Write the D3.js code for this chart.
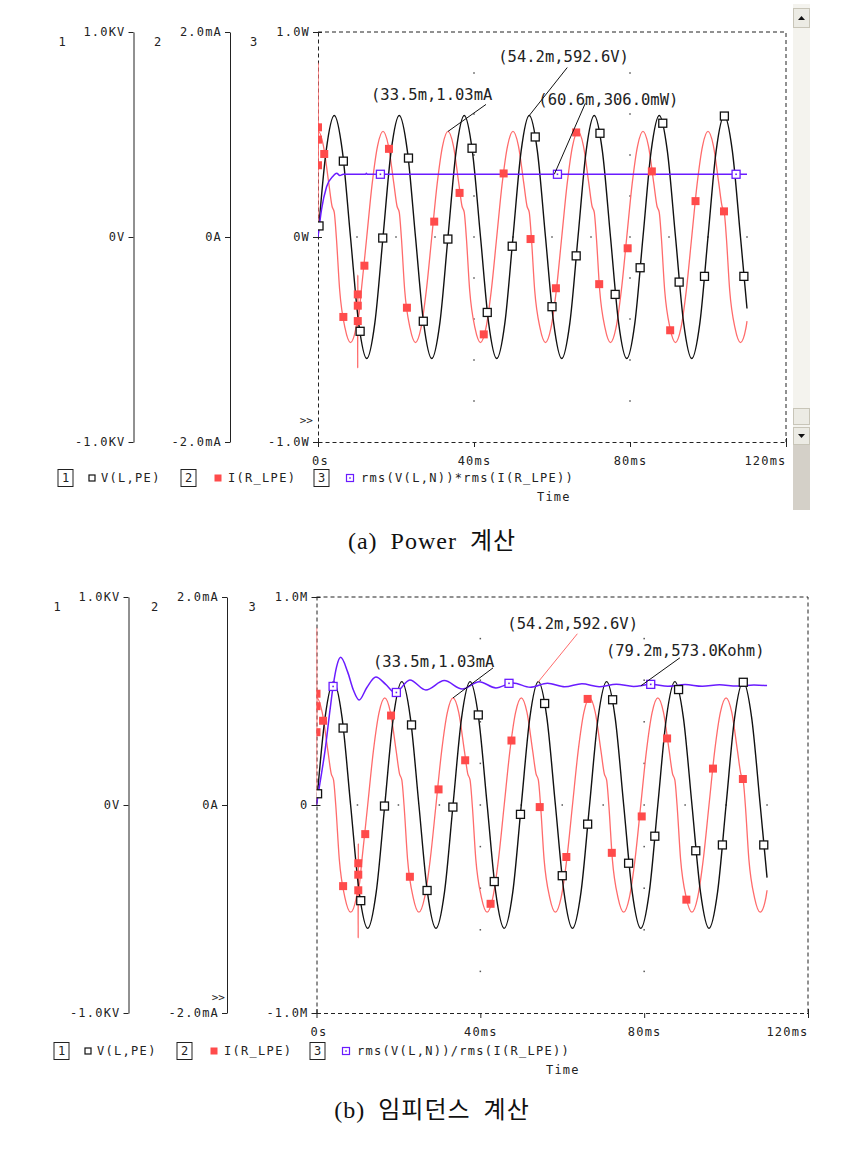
<!DOCTYPE html>
<html lang="ko">
<head>
<meta charset="UTF-8">
<title>Power / Impedance</title>
<script src="https://cdn.jsdelivr.net/npm/d3@7"></script>
<style>
  body { margin: 0; background: #fff; }
</style>
</head>
<body>
<svg id="chart" width="867" height="1160"></svg>
<script>
// ---- data, time in ms ----
// V(L,PE) in volts
var vTime = [0, 2.08, 4.17, 6.25, 8.33, 10.42, 12.5, 14.58,
  16.67, 18.75, 20.83, 22.92, 25, 27.08, 29.17, 31.25,
  33.33, 35.42, 37.5, 39.58, 41.67, 43.75, 45.83, 47.92,
  50, 52.08, 54.17, 56.25, 58.33, 60.42, 62.5, 64.58,
  66.67, 68.75, 70.83, 72.92, 75, 77.08, 79.17, 81.25,
  83.33, 85.42, 87.5, 89.58, 91.67, 93.75, 95.83, 97.92,
  100, 102.08, 104.17, 106.25, 108.33, 110];
var vVal = [0, 419, 593, 419, 0, -419, -593, -419,
  0, 419, 593, 419, 0, -419, -593, -419,
  0, 419, 593, 419, 0, -419, -593, -419,
  0, 419, 593, 419, 0, -419, -593, -419,
  0, 419, 593, 419, 0, -419, -593, -419,
  0, 419, 593, 419, 0, -419, -593, -419,
  0, 419, 593, 419, 0, -349];

// I(R_LPE) in mA
var iTime = [0, 0.02, 0.05, 0.1, 1.39, 2.78, 3.6, 4.17, 4.7, 5.56, 6.94, 8.33, 9.72, 10.15, 10.18, 10.21, 10.24, 11.11, 12.5, 13.89, 15.28,
  16.67, 18.06, 19.45, 20.27, 20.84, 21.37, 22.23, 23.61, 25.0, 26.39, 27.78, 29.17, 30.56, 31.95,
  33.33, 34.72, 36.11, 36.93, 37.5, 38.03, 38.89, 40.27, 41.66, 43.05, 44.44, 45.83, 47.22, 48.61,
  50, 51.39, 52.78, 53.6, 54.17, 54.7, 55.56, 56.94, 58.33, 59.72, 61.11, 62.5, 63.89, 65.28,
  66.67, 68.06, 69.45, 70.27, 70.84, 71.37, 72.23, 73.61, 75.0, 76.39, 77.78, 79.17, 80.56, 81.95,
  83.33, 84.72, 86.11, 86.93, 87.5, 88.03, 88.89, 90.27, 91.66, 93.05, 94.44, 95.83, 97.22, 98.61,
  100, 101.39, 102.78, 103.6, 104.17, 104.7, 105.56, 106.94, 108.33, 109.72, 110];
var iVal = [0, 1.70, 0.70, 1.03, 0.89, 0.52, 0.30, 0.24, 0, -0.52, -0.89, -1.03, -0.89, -0.79, -1.28, -0.37, -0.81, -0.52, 0, 0.52, 0.89,
  1.03, 0.89, 0.52, 0.30, 0.24, 0, -0.52, -0.89, -1.03, -0.89, -0.52, 0, 0.52, 0.89,
  1.03, 0.89, 0.52, 0.30, 0.24, 0, -0.52, -0.89, -1.03, -0.89, -0.52, 0, 0.52, 0.89,
  1.03, 0.89, 0.52, 0.30, 0.24, 0, -0.52, -0.89, -1.03, -0.89, -0.52, 0, 0.52, 0.89,
  1.03, 0.89, 0.52, 0.30, 0.24, 0, -0.52, -0.89, -1.03, -0.89, -0.52, 0, 0.52, 0.89,
  1.03, 0.89, 0.52, 0.30, 0.24, 0, -0.52, -0.89, -1.03, -0.89, -0.52, 0, 0.52, 0.89,
  1.03, 0.89, 0.52, 0.30, 0.24, 0, -0.52, -0.89, -1.03, -0.89, -0.82];

// rms(V)*rms(I) in W
var pTime = [0, 0.9, 2.2, 3.9, 4.8, 5.6, 6.5, 12.2, 12.4, 12.6, 110];
var pVal = [0, 0.133, 0.245, 0.298, 0.311, 0.300, 0.306, 0.306, 0.311, 0.306, 0.306];

// rms(V)/rms(I) in kohm
var zTime = [0, 0.85, 2.1, 3.3, 4.1, 4.9, 5.9, 7.6, 9.0, 10.4, 12.3, 14.5, 16.9, 19.2, 22.8, 26.7, 31.2, 35.6,
  39.7, 43.8, 48.0, 52.2, 56.4, 60.6, 64.8, 69.0, 73.2, 77.4, 81.6, 85.8, 90.0, 94.2, 98.4, 102.6, 106.8, 110];
var zVal = [0, 106, 264, 457, 577, 664, 710, 640, 553, 505, 565, 615, 580, 540, 601, 553, 598, 558,
  593, 563, 587, 566, 585, 568, 583, 569, 581, 570, 580, 571, 579, 571, 578, 572, 577, 574];

// symbol markers
var vMarkTime = [0.26, 6.5, 10.8, 16.6, 23.2, 27.0, 33.3, 39.5, 43.4, 49.8, 55.7, 60.0, 66.2, 72.3, 76.2, 82.6, 88.4, 92.6, 99.1, 104.2, 109.2];
var vMarkVal = [54, 370, -460, -5, 385, -411, -10, 433, -368, -45, 488, -340, -92, 506, -280, -150, 555, -220, -192, 590, -192];
var iMarkTime = [0, 0, 0, 1.6, 6.5, 10.2, 10.2, 10.2, 11.9, 18.2, 22.8, 29.8, 36.3, 42.5, 47.6, 54.5, 61.0, 66.2, 72.1, 79.4, 85.6, 90.3, 96.8, 104.1];
var iMarkVal = [1.07, 0.95, 0.70, 0.81, -0.78, -0.56, -0.67, -0.82, -0.28, 0.86, -0.69, 0.15, 0.43, -0.95, 0.62, -0.02, -0.50, 1.02, -0.46, -0.11, 0.64, -0.91, 0.35, 0.25];
var pMarkTime = [16.0, 61.4, 107.2];
var pMarkVal = [0.306, 0.306, 0.306];
var zMarkTime = [4.05, 19.5, 47.0, 81.6];
var zMarkVal = [570, 541, 585, 580];

// axis ticks
var xTicks = [0, 40, 80, 120];
var xTickLabels = ['0s', '40ms', '80ms', '120ms'];
var vTicks = [-1000, 0, 1000], vTickLabels = ['-1.0KV', '0V', '1.0KV'];
var iTicks = [-2, 0, 2], iTickLabels = ['-2.0mA', '0A', '2.0mA'];
var pTicks = [-1, 0, 1], pTickLabels = ['-1.0W', '0W', '1.0W'];
var zTicks = [-1000, 0, 1000], zTickLabels = ['-1.0M', '0', '1.0M'];

// cursor labels
var noteAText = ['(33.5m,1.03mA', '(54.2m,592.6V)', '(60.6m,306.0mW)'];
var noteATime = [33.33, 54.17, 60.6];
var noteAVal = [1.03, 592.6, 0.306];
var noteBText = ['(33.5m,1.03mA', '(54.2m,592.6V)', '(79.2m,573.0Kohm)'];
var noteBTime = [33.33, 54.17, 79.2];
var noteBVal = [1.03, 592.6, 573];

var mono = '"DejaVu Sans Mono", "Liberation Mono", monospace';
var BLACK = '#111', RED_LINE = '#ff6b6b', RED_MARK = '#ff4b4b', PURPLE = '#6a1cff';

var svg = d3.select('#chart');
svg.append('rect').attr('width', 867).attr('height', 1160).attr('fill', '#fff');

var panels = [
  { id: 'a', top: 32, bottom: 442, left: 318, right: 786, ax1: 133.5, ax2: 230,
    y3Domain: [-1, 1], y3Ticks: pTicks, y3Labels: pTickLabels,
    s3Time: pTime, s3Val: pVal, m3Time: pMarkTime, m3Val: pMarkVal,
    legend3: 'rms(V(L,N))*rms(I(R_LPE))', legendX: 58, legendY: 478, timeX: 537, timeY: 497,
    caption: '(a) Power 계산', captionY: 549,
    noteText: noteAText, noteTime: noteATime, noteVal: noteAVal,
    noteAxis: ['i', 'v', '3'], noteColor: [BLACK, BLACK, BLACK],
    noteLead: [[38, -27], [38, -48], [31, -71]], noteOff: [[-77, -31], [-31, -54], [-16, -69]],
    arrowX: 313, arrowY: 420, scrollbar: true },
  { id: 'b', top: 597, bottom: 1013, left: 316.5, right: 808, ax1: 128.5, ax2: 227,
    y3Domain: [-1000, 1000], y3Ticks: zTicks, y3Labels: zTickLabels,
    s3Time: zTime, s3Val: zVal, m3Time: zMarkTime, m3Val: zMarkVal,
    legend3: 'rms(V(L,N))/rms(I(R_LPE))', legendX: 54, legendY: 1051, timeX: 546, timeY: 1070,
    caption: '(b) 임피던스 계산', captionY: 1118,
    noteText: noteBText, noteTime: noteBTime, noteVal: noteBVal,
    noteAxis: ['i', 'v', '3'], noteColor: [BLACK, RED_LINE, BLACK],
    noteLead: [[40, -30], [39, -48], [39, -28]], noteOff: [[-80, -31], [-31, -53], [-35, -30]],
    arrowX: 225, arrowY: 997, scrollbar: false }
];

function leftAxis(g, scale, ticks, labels, xPos, dashed) {
  var ax = g.append('g').attr('transform', 'translate(' + xPos + ',0)')
    .call(d3.axisLeft(scale).tickValues(ticks)
      .tickFormat(function(d, i) { return labels[i]; })
      .tickSize(5).tickSizeOuter(0).tickPadding(3));
  ax.attr('font-family', mono).attr('font-size', 12);
  ax.selectAll('text').attr('letter-spacing', 1.2).attr('fill', '#222');
  ax.selectAll('.tick line').attr('stroke', '#222');
  ax.select('.domain').attr('stroke', '#222');
  if (dashed) {
    ax.select('.domain').attr('stroke-dasharray', '4,3');
    ax.selectAll('.tick line').attr('x1', 4);
  }
  return ax;
}

function squareMarks(g, xs, ys, size, fill, stroke) {
  g.selectAll(null).data(xs).enter().append('rect')
    .attr('x', function(d, i) { return xs[i] - size / 2; })
    .attr('y', function(d, i) { return ys[i] - size / 2; })
    .attr('width', size).attr('height', size)
    .attr('fill', fill).attr('stroke', stroke).attr('stroke-width', stroke === 'none' ? 0 : 1.3);
}

function drawPanel(cfg) {
  var g = svg.append('g');
  var x = d3.scaleLinear().domain([0, 120]).range([cfg.left, cfg.right]);
  var yV = d3.scaleLinear().domain([-1000, 1000]).range([cfg.bottom, cfg.top]);
  var yI = d3.scaleLinear().domain([-2, 2]).range([cfg.bottom, cfg.top]);
  var y3 = d3.scaleLinear().domain(cfg.y3Domain).range([cfg.bottom, cfg.top]);
  var yU = d3.scaleLinear().domain([-1, 1]).range([cfg.bottom, cfg.top]);
  var scales = { v: yV, i: yI, '3': y3 };

  g.append('clipPath').attr('id', 'clip' + cfg.id).append('rect')
    .attr('x', cfg.left).attr('y', cfg.top - 1)
    .attr('width', cfg.right - cfg.left).attr('height', cfg.bottom - cfg.top + 2);

  // dotted grid
  var dots = [];
  d3.range(10, 111, 10).forEach(function(t) { dots.push([x(t), yU(0)]); });
  [40, 80].forEach(function(t) {
    [-0.8, -0.6, -0.4, -0.2, 0.2, 0.4, 0.6, 0.8].forEach(function(f) { dots.push([x(t), yU(f)]); });
  });
  g.selectAll(null).data(dots).enter().append('rect')
    .attr('x', function(d) { return d[0] - 0.75; }).attr('y', function(d) { return d[1] - 0.75; })
    .attr('width', 1.5).attr('height', 1.5).attr('fill', '#555');

  // top + right frame
  g.append('path')
    .attr('d', 'M' + cfg.left + ',' + cfg.top + 'H' + cfg.right + 'V' + cfg.bottom)
    .attr('fill', 'none').attr('stroke', '#222').attr('stroke-dasharray', '4,3');

  // x axis
  var xa = g.append('g').attr('transform', 'translate(0,' + cfg.bottom + ')')
    .call(d3.axisBottom(x).tickValues(xTicks)
      .tickFormat(function(d, i) { return xTickLabels[i]; })
      .tickSize(5).tickSizeOuter(0).tickPadding(9));
  xa.attr('font-family', mono).attr('font-size', 12);
  xa.select('.domain').attr('stroke', '#222').attr('stroke-dasharray', '4,3');
  xa.selectAll('.tick line').attr('stroke', '#222')
    .attr('y1', function(d, i) { return (i === 0 || i === xTicks.length - 1) ? -4 : 0; });
  xa.selectAll('.tick text').attr('letter-spacing', 1.2).attr('fill', '#222')
    .attr('text-anchor', function(d, i) { return i === xTicks.length - 1 ? 'end' : 'middle'; })
    .attr('dx', function(d, i) { return i === 0 ? 2 : 0; });

  // y axes
  leftAxis(g, yV, vTicks, vTickLabels, cfg.ax1, false);
  leftAxis(g, yI, iTicks, iTickLabels, cfg.ax2, false);
  leftAxis(g, y3, cfg.y3Ticks, cfg.y3Labels, cfg.left, true);

  // axis numbers
  [[cfg.ax1 - 75, '1'], [cfg.ax2 - 76, '2'], [cfg.left - 68, '3']].forEach(function(a) {
    g.append('text').attr('x', a[0]).attr('y', cfg.top + 10).attr('dy', '0.35em')
      .attr('font-family', mono).attr('font-size', 12).attr('fill', '#222').text(a[1]);
  });
  g.append('text').attr('x', cfg.arrowX).attr('y', cfg.arrowY).attr('dy', '0.35em')
    .attr('text-anchor', 'end').attr('font-family', mono).attr('font-size', 11)
    .attr('fill', '#222').text('>>');

  // traces
  var plot = g.append('g').attr('clip-path', 'url(#clip' + cfg.id + ')');
  function trace(ts, vs, scale, color, w) {
    var line = d3.line()
      .x(function(d) { return x(d[0]); })
      .y(function(d) { return scale(d[1]); })
      .curve(d3.curveMonotoneX);
    plot.append('path').datum(d3.zip(ts, vs)).attr('d', line)
      .attr('fill', 'none').attr('stroke', color).attr('stroke-width', w);
  }
  trace(iTime, iVal, yI, RED_LINE, 1.3);
  trace(vTime, vVal, yV, BLACK, 1.4);
  trace(cfg.s3Time, cfg.s3Val, y3, PURPLE, 1.5);

  // markers
  squareMarks(plot, iMarkTime.map(x), iMarkVal.map(yI), 8, RED_MARK, 'none');
  squareMarks(plot, vMarkTime.map(x), vMarkVal.map(yV), 8, '#fff', BLACK);
  squareMarks(plot, cfg.m3Time.map(x), cfg.m3Val.map(y3), 8, '#fff', PURPLE);
  squareMarks(plot, cfg.m3Time.map(x), cfg.m3Val.map(y3), 1.6, PURPLE, 'none');

  // cursor labels
  cfg.noteText.forEach(function(txt, i) {
    var px = x(cfg.noteTime[i]), py = scales[cfg.noteAxis[i]](cfg.noteVal[i]);
    g.append('line').attr('x1', px).attr('y1', py)
      .attr('x2', px + cfg.noteLead[i][0]).attr('y2', py + cfg.noteLead[i][1])
      .attr('stroke', cfg.noteColor[i]).attr('stroke-width', 1);
    g.append('text').attr('x', px + cfg.noteOff[i][0]).attr('y', py + cfg.noteOff[i][1])
      .attr('font-family', mono).attr('font-size', 15.5).attr('fill', '#222').text(txt);
  });

  // legend
  var lx = cfg.legendX, ly = cfg.legendY;
  var legendItems = [
    { box: 0, num: '1', mark: 34, text: 43, label: 'V(L,PE)' },
    { box: 123, num: '2', mark: 160, text: 170, label: 'I(R_LPE)' },
    { box: 256, num: '3', mark: 292, text: 303, label: cfg.legend3 }
  ];
  legendItems.forEach(function(it, i) {
    g.append('rect').attr('x', lx + it.box).attr('y', ly - 8.5).attr('width', 15).attr('height', 17)
      .attr('fill', 'none').attr('stroke', '#222');
    g.append('text').attr('x', lx + it.box + 7.5).attr('y', ly).attr('dy', '0.35em')
      .attr('text-anchor', 'middle').attr('font-family', mono).attr('font-size', 12)
      .attr('fill', '#222').text(it.num);
    var mx = lx + it.mark;
    if (i === 0) {
      g.append('rect').attr('x', mx - 3).attr('y', ly - 3).attr('width', 6).attr('height', 6)
        .attr('fill', '#fff').attr('stroke', BLACK).attr('stroke-width', 1.2);
    } else if (i === 1) {
      g.append('rect').attr('x', mx - 3.5).attr('y', ly - 3.5).attr('width', 7).attr('height', 7)
        .attr('fill', RED_MARK);
    } else {
      g.append('rect').attr('x', mx - 3.5).attr('y', ly - 3.5).attr('width', 7).attr('height', 7)
        .attr('fill', 'none').attr('stroke', PURPLE).attr('stroke-width', 1.2);
      g.append('rect').attr('x', mx - 0.75).attr('y', ly - 0.75).attr('width', 1.5).attr('height', 1.5)
        .attr('fill', PURPLE);
    }
    g.append('text').attr('x', lx + it.text).attr('y', ly).attr('dy', '0.35em')
      .attr('font-family', mono).attr('font-size', 12).attr('letter-spacing', 1.3)
      .attr('fill', '#222').text(it.label);
  });
  g.append('text').attr('x', cfg.timeX).attr('y', cfg.timeY).attr('dy', '0.35em')
    .attr('font-family', mono).attr('font-size', 12).attr('letter-spacing', 1.2)
    .attr('fill', '#222').text('Time');

  // caption
  g.append('text').attr('x', 432).attr('y', cfg.captionY).attr('text-anchor', 'middle')
    .attr('font-family', '"Liberation Serif", "DejaVu Serif", "Noto Sans CJK KR", serif')
    .attr('font-size', 24).attr('letter-spacing', 1).attr('word-spacing', 6)
    .attr('fill', '#111').text(cfg.caption);

  // window scrollbar (only on the first screen capture)
  if (cfg.scrollbar) {
    var sb = g.append('g');
    sb.append('rect').attr('x', 793).attr('y', 4).attr('width', 17).attr('height', 441).attr('fill', '#f4f3ee');
    sb.append('rect').attr('x', 793).attr('y', 444).attr('width', 17).attr('height', 66).attr('fill', '#d4d0c8');
    [[8, 27], [408, 424], [427, 444]].forEach(function(b) {
      sb.append('rect').attr('x', 793.5).attr('y', b[0] + 0.5).attr('width', 16).attr('height', b[1] - b[0])
        .attr('fill', '#ecebe4').attr('stroke', '#c8c5b8');
    });
    sb.append('path').attr('d', 'M798,20L805,20L801.5,16Z').attr('fill', '#111');
    sb.append('path').attr('d', 'M798,434L805,434L801.5,438Z').attr('fill', '#111');
  }
}

panels.forEach(drawPanel);
</script>
</body>
</html>
